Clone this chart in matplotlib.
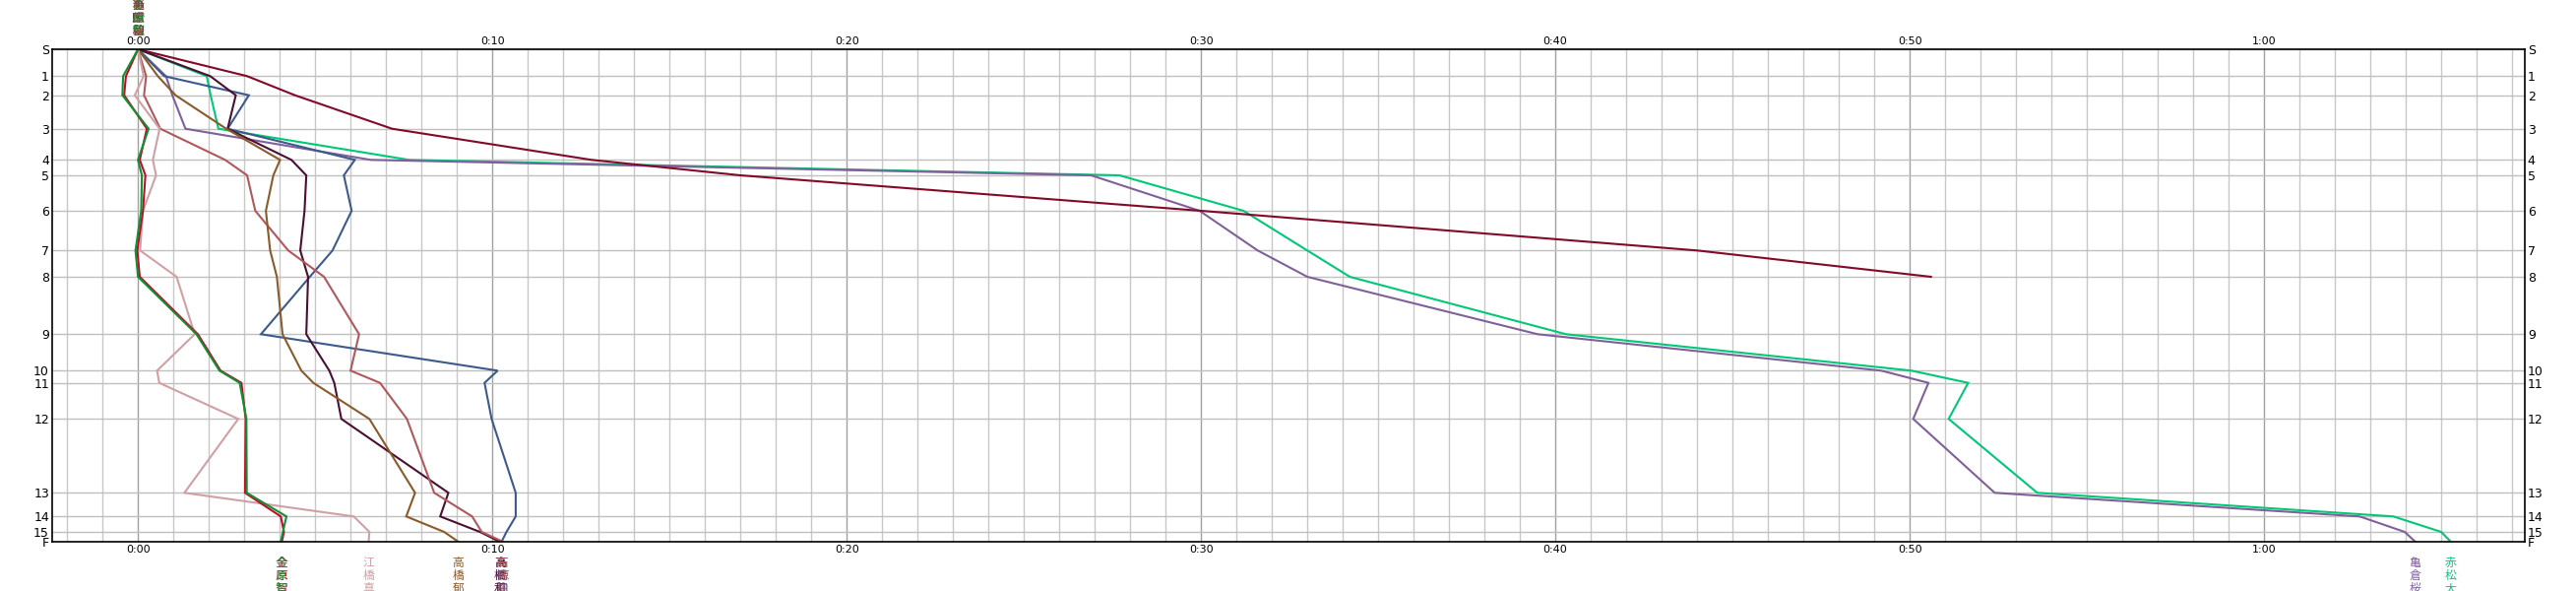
import matplotlib.pyplot as plt
from matplotlib.ticker import MultipleLocator, FixedLocator

plt.rcParams['font.family'] = ['Noto Sans CJK JP', 'DejaVu Sans']

# checkpoints and their relative course position
checkpoints = ['S', '1', '2', '3', '4', '5', '6', '7', '8', '9', '10', '11', '12', '13', '14', '15', 'F']
cp_dist = [0, 27.3, 46.7, 80.7, 112.3, 128.0, 164.0, 204.3, 231.0, 289.3, 326.3, 338.7, 375.3, 450.3, 474.3, 490.0, 500.0]

# gap to reference at each checkpoint (minutes)
gap_akamatsu = [0, 1.94, 2.05, 2.27, 7.65, 27.7, 31.2, 33.0, 34.2, 40.3, 50.05, 51.65, 51.1, 53.6, 63.65, 65.0, 65.27]
gap_kamekura = [0, 0.79, 0.97, 1.34, 6.57, 26.9, 29.96, 31.6, 33.0, 39.5, 49.2, 50.53, 50.1, 52.4, 62.7, 63.97, 64.27]
gap_dnf = [0, 3.08, 4.43, 7.17, 12.8, 17.0, 30.0, 44.0, 50.6]
gap_navy = [0, 0.74, 3.13, 2.53, 6.12, 5.81, 6.03, 5.49, 4.85, 3.47, 10.15, 9.78, 9.98, 10.66, 10.66, 10.40, 10.26]
gap_dark = [0, 2.04, 2.76, 2.53, 4.33, 4.75, 4.70, 4.58, 4.80, 4.75, 5.40, 5.54, 5.74, 8.76, 8.53, 9.65, 10.21]
gap_rose = [0, 0.23, 0.17, 0.63, 2.46, 3.08, 3.31, 4.24, 5.25, 6.24, 6.0, 6.83, 7.59, 8.36, 9.43, 9.70, 10.3]
gap_brown = [0, 0.56, 1.06, 2.49, 4.01, 3.82, 3.61, 3.73, 3.92, 4.08, 4.61, 4.95, 6.53, 7.82, 7.57, 8.64, 9.04]
gap_pink = [0, 0.16, -0.09, 0.61, 0.42, 0.51, 0.14, 0.06, 1.09, 1.60, 0.54, 0.60, 2.83, 1.31, 6.09, 6.53, 6.51]
gap_red = [0, -0.34, -0.39, 0.25, 0.05, 0.21, 0.14, -0.02, 0.05, 1.69, 2.33, 2.92, 3.04, 3.02, 4.03, 4.12, 4.06]
gap_green = [0, -0.42, -0.44, 0.30, 0.0, 0.11, 0.09, -0.07, 0.0, 1.65, 2.30, 2.87, 3.06, 3.07, 4.19, 4.09, 4.03]

names = ['赤松大', '亀倉桜', '石田稔', '高橋莉', '高橋和', '石原由', '高橋郁', '江橋真', '金原智', '金原智']
colors = ['#00c878', '#80609a', '#820a28', '#3d5a8c', '#4b0f33', '#b0585c', '#8b5a2b', '#d0a0a4', '#c00a2a', '#109030']
series = [gap_akamatsu, gap_kamekura, gap_dnf, gap_navy, gap_dark, gap_rose, gap_brown, gap_pink, gap_red, gap_green]

fig = plt.figure(figsize=(26.17, 6), dpi=100)
ax = fig.add_axes([52.7 / 2617, 50 / 600, (2565 - 52.7) / 2617, 500 / 600])

for name, col, g in zip(names, colors, series):
    ax.plot(g, cp_dist[:len(g)], color=col, lw=1.5, solid_joinstyle='miter')
    # name at the start (top) and at the finish (bottom)
    vtxt = '\n'.join(name)
    ax.text(0, 1.024, vtxt, transform=ax.get_xaxis_transform(), color=col,
            fontsize=8.5, ha='center', va='bottom', linespacing=1.0)
    if len(g) == len(cp_dist):
        ax.text(g[-1], -0.03, vtxt, transform=ax.get_xaxis_transform(), color=col,
                fontsize=8.5, ha='center', va='top', linespacing=1.0)

ax.set_xlim(-2.43, 67.36)
ax.set_ylim(500, 0)

major = list(range(0, 61, 10))
ax.xaxis.set_major_locator(FixedLocator(major))
ax.set_xticklabels([f'{m // 60}:{m % 60:02d}' for m in major], family='DejaVu Sans')
ax.xaxis.set_minor_locator(MultipleLocator(1))
ax.set_yticks(cp_dist)
ax.set_yticklabels(checkpoints, family='DejaVu Sans')

ax.grid(True, which='minor', axis='x', color='#c8c8c8', lw=1.0)
ax.grid(True, which='major', axis='x', color='#a0a0a0', lw=1.0)
ax.grid(True, which='major', axis='y', color='#c0c0c0', lw=1.0)
ax.set_axisbelow(True)

ax.tick_params(axis='x', which='both', length=0, top=True, labeltop=True, labelsize=8, pad=2)
ax.tick_params(axis='y', length=0, right=True, labelright=True, labelsize=9, pad=2)
for s in ax.spines.values():
    s.set_color('black')
    s.set_linewidth(1.2)

fig.savefig('out.png', dpi=100, facecolor='white')
